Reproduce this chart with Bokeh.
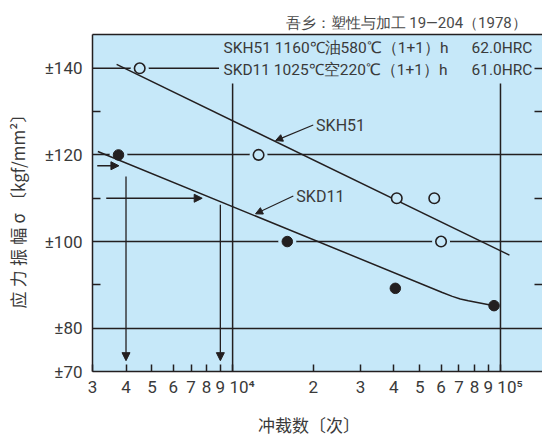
from bokeh.plotting import figure
from bokeh.models import (ColumnDataSource, FixedTicker, LinearAxis, Label, Arrow,
                          NormalHead, Range1d)
from bokeh.embed import file_html
from bokeh.resources import INLINE

# ---------------- data ----------------
x_ticks = [3000, 4000, 5000, 6000, 7000, 8000, 9000, 10000,
           20000, 30000, 40000, 50000, 60000, 70000, 80000, 90000, 100000]
x_tick_labels = ["3", "4", "5", "6", "7", "8", "9", "\u2007\u200710\u2074",
                 "2", "3", "4", "5", "6", "7", "8", "9", "\u2007\u200710\u2075"]
decade_values = [10000, 100000]

y_ticks = [70, 80, 100, 120, 140]
y_tick_labels = ["±70", "±80", "±100", "±120", "±140"]
y_minor = [90, 110, 130]
y_right_ticks = [140, 130, 110, 90]
grid_y = [80, 100, 120]

# measured points
skh51_n = [4500, 12500, 41000, 56600, 60000]
skh51_s = [140, 120, 110, 110, 100]
skd11_n = [3750, 16000, 40500, 94600]
skd11_s = [120, 100, 89.2, 85.2]

# fitted curves
skh51_line_n = [3690, 108000]
skh51_line_s = [140.9, 96.85]
skd11_line_n = [3140, 60650, 66100, 70790, 75850, 81930, 94600]
skd11_line_s = [120.8, 88.25, 87.35, 86.75, 86.32, 85.93, 85.2]

# reference lines
line140_n = [3000, 8900]
line140_s = [140, 140]
decade_line_top = [136.5, 136.5]
decade_line_bottom = [70, 70]

# reading arrows
arrow_h_s = [117.5, 110]
arrow_h_n0 = [3124, 3375]
arrow_h_n1 = [3764, 7700]
arrow_v_n = [4000, 9000]
arrow_v_s0 = [115, 108.5]
arrow_v_s1 = [72.5, 72.5]

# leader arrows for curve names
leader_names = ["SKH51", "SKD11"]
leader_n0 = [20000, 16850]
leader_s0 = [126.9, 110.5]
leader_n1 = [14470, 12180]
leader_s1 = [123.3, 106.4]
name_n = [20500, 17300]

header_lines = ["SKH51  1160℃油580℃（1+1）h", "SKD11  1025℃空220℃（1+1）h"]
header_hrc = ["62.0HRC", "61.0HRC"]
title_text = "吾乡：塑性与加工  19—204（1978）"
x_label = "冲裁数〔次〕\u3000\u2002"
y_label = "应\u2005力\u2005振\u2005幅\u2005σ\u2005〔kgf/mm²〕\u3000"

# ---------------- style ----------------
BG = "#c6e8f9"
INK = "#231f20"
TXT = "#3a3a3a"
FONT = "Roboto"
CJK = "Noto Sans CJK SC"

p = figure(width=542, height=439, x_axis_type="log",
           x_range=Range1d(2999, 143500), y_range=Range1d(70, 147.8),
           output_backend="svg", toolbar_location=None,
           min_border_left=92, min_border_right=0, min_border_top=34,
           min_border_bottom=66)
p.background_fill_color = BG
p.border_fill_color = "white"
p.outline_line_color = None

# title (source)
p.title.text = title_text
p.title.align = "left"
p.title.offset = 193
p.title.standoff = 5
p.title.text_font = FONT
p.title.text_font_size = "15px"
p.title.text_font_style = "normal"
p.title.text_color = "#4a4a4a"

# x axis
xa = p.xaxis[0]
xa.ticker = FixedTicker(ticks=x_ticks)
xa.major_label_overrides = {t: l for t, l in zip(x_ticks, x_tick_labels)}
xa.major_tick_in = 7
xa.major_tick_out = 0
xa.minor_tick_line_color = None
xa.axis_line_color = INK
xa.axis_line_width = 1.5
xa.major_tick_line_color = INK
xa.major_tick_line_width = 1.5
xa.major_label_text_font = FONT
xa.major_label_text_font_size = "17px"
xa.major_label_text_color = TXT
xa.major_label_standoff = 5
xa.axis_label = x_label
xa.axis_label_text_font = CJK
xa.axis_label_text_font_size = "17px"
xa.axis_label_text_font_style = "normal"
xa.axis_label_text_color = TXT
xa.axis_label_standoff = 12

# y axis
ya = p.yaxis[0]
ya.ticker = FixedTicker(ticks=y_ticks, minor_ticks=y_minor)
ya.major_label_overrides = {t: l for t, l in zip(y_ticks, y_tick_labels)}
ya.major_tick_in = 0
ya.major_tick_out = 0
ya.minor_tick_in = 8
ya.minor_tick_out = 0
ya.minor_tick_line_color = INK
ya.minor_tick_line_width = 1.5
ya.axis_line_color = INK
ya.axis_line_width = 1.5
ya.major_label_text_font = FONT
ya.major_label_text_font_size = "17px"
ya.major_label_text_color = TXT
ya.major_label_standoff = 10
ya.axis_label = y_label
ya.axis_label_text_font = CJK
ya.axis_label_text_font_size = "17px"
ya.axis_label_text_font_style = "normal"
ya.axis_label_text_color = TXT
ya.axis_label_standoff = 12

# top border
top_axis = LinearAxis(ticker=FixedTicker(ticks=[]), axis_line_color=INK,
                      axis_line_width=1.5, major_tick_line_color=None,
                      minor_tick_line_color=None, major_label_text_font_size="0px")
p.add_layout(top_axis, "above")

# right ticks
right_axis = LinearAxis(ticker=FixedTicker(ticks=y_right_ticks), axis_line_color=None,
                        major_tick_in=8, major_tick_out=0, major_tick_line_color=INK,
                        major_tick_line_width=1.5, minor_tick_line_color=None,
                        major_label_overrides={t: "" for t in y_right_ticks},
                        major_label_standoff=0, major_label_text_font_size="0px")
p.add_layout(right_axis, "right")

p.xgrid.visible = False
p.ygrid.ticker = FixedTicker(ticks=grid_y)
p.ygrid.grid_line_color = INK
p.ygrid.grid_line_width = 1.5
p.ygrid.grid_line_alpha = 1.0

# reference lines
p.line(line140_n, line140_s, line_color=INK, line_width=1.5)
p.segment(x0=decade_values, y0=decade_line_top, x1=decade_values, y1=decade_line_bottom,
          line_color=INK, line_width=1.5)

# halos around markers lying on reference lines
on_lines = set(grid_y + [140])
halo_n = [n for n, s in zip(skh51_n + skd11_n, skh51_s + skd11_s) if s in on_lines]
halo_s = [s for s in skh51_s + skd11_s if s in on_lines]
p.scatter(halo_n, halo_s, marker="circle", size=18, fill_color=BG, line_color=None)

# curves
p.line(skh51_line_n, skh51_line_s, line_color=INK, line_width=1.5)
p.line(skd11_line_n, skd11_line_s, line_color=INK, line_width=1.5)

# markers
p.scatter(skh51_n, skh51_s, marker="circle", size=10.5, fill_color=BG,
          line_color=INK, line_width=1.6)
p.scatter(skd11_n, skd11_s, marker="circle", size=10.5, fill_color=INK,
          line_color=INK, line_width=1)

# reading arrows
for src in (ColumnDataSource(dict(x0=arrow_h_n0, y0=arrow_h_s, x1=arrow_h_n1, y1=arrow_h_s)),
            ColumnDataSource(dict(x0=arrow_v_n, y0=arrow_v_s0, x1=arrow_v_n, y1=arrow_v_s1))):
    p.add_layout(Arrow(x_start="x0", y_start="y0", x_end="x1", y_end="y1", source=src,
                       line_color=INK, line_width=1.3,
                       end=NormalHead(size=8, fill_color=INK, line_color=INK, line_width=1)))

# leader arrows
lsrc = ColumnDataSource(dict(x0=leader_n0, y0=leader_s0, x1=leader_n1, y1=leader_s1))
p.add_layout(Arrow(x_start="x0", y_start="y0", x_end="x1", y_end="y1", source=lsrc,
                   line_color=INK, line_width=1.1,
                   end=NormalHead(size=7, fill_color=INK, line_color=INK, line_width=1)))
for nm, xn, yn in zip(leader_names, name_n, leader_s0):
    p.add_layout(Label(x=xn, y=yn, text=nm, text_font=FONT, text_font_size="16px",
                       text_color=TXT, text_align="left", text_baseline="middle"))

# header text
for i, (t, h) in enumerate(zip(header_lines, header_hrc)):
    yy = 324 - 22 * i
    p.add_layout(Label(x=131, y=yy, x_units="screen", y_units="screen", text=t,
                       text_font=FONT, text_font_size="15.5px", text_color=TXT,
                       text_baseline="middle"))
    p.add_layout(Label(x=379, y=yy, x_units="screen", y_units="screen", text=h,
                       text_font=FONT, text_font_size="15.5px", text_color=TXT,
                       text_baseline="middle"))

open("out.html", "w").write(file_html(p, INLINE))
